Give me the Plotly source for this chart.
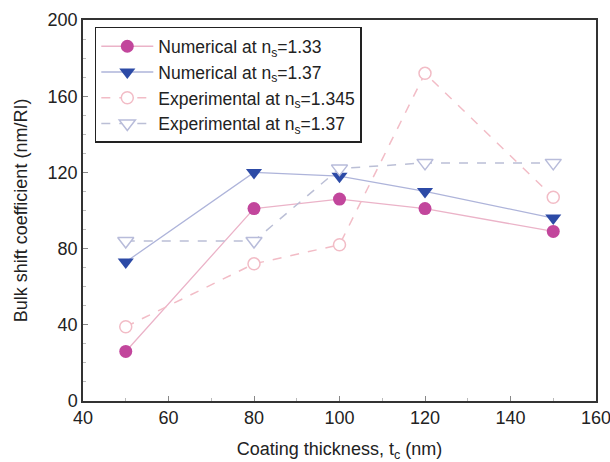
import plotly.graph_objects as go

thickness = [50, 80, 100, 120, 150]
num_133 = [26, 101, 106, 101, 89]
num_137 = [73, 120, 118, 110, 96]
exp_1345 = [39, 72, 82, 172, 107]
exp_137 = [84, 84, 122, 125, 125]

names = ["Numerical at n<sub>s</sub>=1.33", "Numerical at n<sub>s</sub>=1.37",
         "Experimental at n<sub>s</sub>=1.345", "Experimental at n<sub>s</sub>=1.37"]

fig = go.Figure()
fig.add_trace(go.Scatter(x=thickness, y=num_133, name=names[0], mode="lines+markers",
                         line=dict(color="#EBB3C8", width=1.3),
                         marker=dict(symbol="circle", size=13, color="#C2469C")))
fig.add_trace(go.Scatter(x=thickness, y=num_137, name=names[1], mode="lines+markers",
                         line=dict(color="#AEB4DA", width=1.3),
                         marker=dict(symbol="triangle-down", size=14, color="#2C4AA6")))
fig.add_trace(go.Scatter(x=thickness, y=exp_1345, name=names[2], mode="lines+markers",
                         line=dict(color="#F2BCC6", width=1.5, dash="dash"),
                         marker=dict(symbol="circle", size=12, color="white",
                                     line=dict(width=1.5, color="#F2BCC6"))))
fig.add_trace(go.Scatter(x=thickness, y=exp_137, name=names[3], mode="lines+markers",
                         line=dict(color="#BBBFD6", width=1.5, dash="dash"),
                         marker=dict(symbol="triangle-down", size=14, color="white",
                                     line=dict(width=1.5, color="#B8BCDA"))))

font = dict(family="Liberation Sans, Arial, sans-serif", color="#222222")
fig.update_layout(
    width=610, height=462,
    margin=dict(l=83, r=14, t=20, b=61),
    paper_bgcolor="white", plot_bgcolor="white",
    font=dict(size=18, **font),
    showlegend=True,
    legend=dict(x=0.023, y=0.982, xanchor="left", yanchor="top",
                bgcolor="white", bordercolor="#222222", borderwidth=1.5,
                font=dict(size=17.5, **font), tracegroupgap=0,
                itemwidth=52),
    xaxis=dict(range=[40, 160], tickvals=[40, 60, 80, 100, 120, 140, 160],
               automargin=False, ticklabeloverflow="allow",
               ticks="inside", ticklen=5, tickcolor="#888888",
               minor=dict(dtick=10, ticks="inside", ticklen=3, tickcolor="#BBBBBB"),
               showgrid=False, zeroline=False,
               showline=True, linecolor="#333333", linewidth=1.5, mirror=True,
               tickfont=dict(size=18, **font),
               title=dict(text="Coating thickness, t<sub>c</sub> (nm)", font=dict(size=18, **font))),
    yaxis=dict(range=[0, 200], tickvals=[0, 40, 80, 120, 160, 200],
               automargin=False, ticklabeloverflow="allow",
               ticks="inside", ticklen=5, tickcolor="#888888",
               minor=dict(dtick=10, ticks="inside", ticklen=3, tickcolor="#BBBBBB"),
               showgrid=False, zeroline=False,
               showline=True, linecolor="#333333", linewidth=1.5, mirror=True,
               tickfont=dict(size=18, **font),
               title=dict(text="Bulk shift coefficient (nm/RI)", font=dict(size=18, **font))),
)

fig.write_html("out.html", config={"displayModeBar": False},
               post_script="document.body.style.margin='0';document.body.style.overflow='hidden';")
